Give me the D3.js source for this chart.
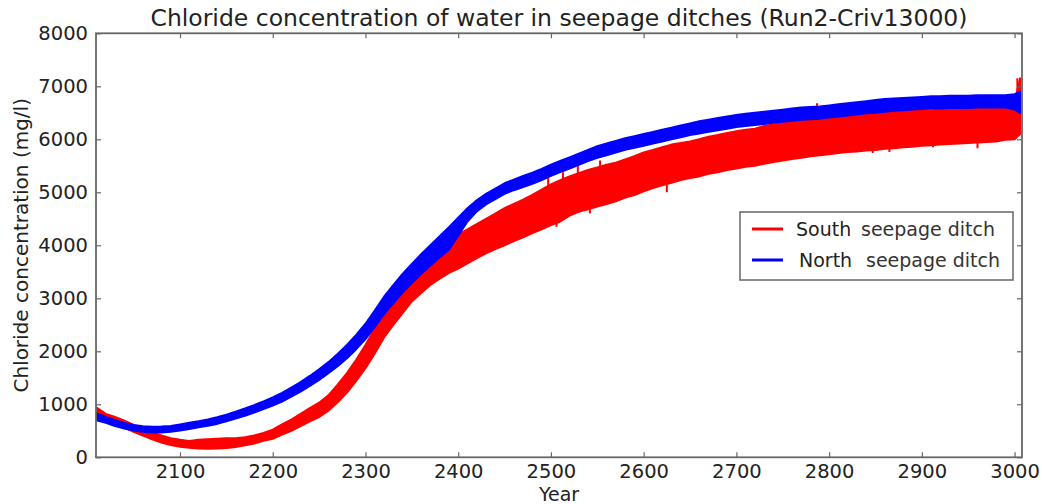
<!DOCTYPE html>
<html><head><meta charset="utf-8">
<script src="https://cdn.jsdelivr.net/npm/d3@7/dist/d3.min.js"></script>
<style>body{margin:0;background:#fff} text{font-family:"DejaVu Sans",sans-serif}</style>
</head><body><svg id="c" width="1042" height="504"></svg>
<script>
const years = [2010,2020,2030,2040,2050,2060,2070,2080,2090,2100,2110,2120,2130,2140,2150,2160,2170,2180,2190,2200,
2210,2220,2230,2240,2250,2260,2270,2280,2290,2300,2310,2320,2330,2340,2350,2360,2370,2380,2390,2400,
2410,2420,2430,2440,2450,2460,2470,2480,2490,2500,2510,2520,2530,2540,2550,2560,2570,2580,2590,2600,
2610,2620,2630,2640,2650,2660,2670,2680,2690,2700,2710,2720,2730,2740,2750,2760,2770,2780,2790,2800,
2810,2820,2830,2840,2850,2860,2870,2880,2890,2900,2910,2920,2930,2940,2950,2960,2970,2980,2990,3000,3006];

const northLo = [700,650,590,545,505,480,470,470,480,505,535,565,595,630,680,730,785,845,910,975,
1050,1145,1240,1345,1460,1585,1720,1870,2040,2230,2460,2700,2910,3110,3290,3460,3620,3770,3920,4180,
4450,4640,4770,4870,4970,5040,5100,5160,5230,5310,5380,5450,5520,5590,5650,5700,5750,5800,5840,5880,
5920,5960,6000,6040,6080,6110,6140,6170,6200,6230,6250,6270,6290,6310,6330,6350,6370,6380,6390,6410,
6430,6450,6470,6490,6500,6520,6540,6550,6560,6570,6580,6580,6590,6590,6590,6600,6600,6600,6600,6560,6500];
const northHi = [830,760,700,650,610,585,575,580,590,620,650,680,715,755,805,860,920,985,1055,1130,
1215,1315,1420,1535,1660,1795,1950,2120,2310,2520,2770,3030,3250,3460,3650,3830,4000,4170,4340,4520,
4700,4850,4970,5070,5170,5240,5310,5370,5440,5520,5590,5660,5730,5800,5870,5920,5970,6020,6060,6100,
6140,6180,6220,6260,6300,6340,6370,6400,6430,6460,6480,6500,6520,6540,6560,6580,6600,6610,6620,6640,
6660,6680,6700,6720,6740,6760,6770,6780,6790,6800,6810,6810,6820,6820,6820,6830,6830,6830,6830,6850,6900];

const southLo = [780,690,630,560,480,410,340,280,230,200,180,165,160,165,175,195,225,260,310,350,
430,500,590,680,760,880,1040,1220,1440,1680,1960,2260,2500,2720,2940,3100,3250,3370,3480,3560,
3660,3760,3850,3930,4000,4080,4150,4230,4300,4380,4450,4560,4630,4680,4730,4780,4830,4900,4950,5020,
5080,5130,5180,5230,5270,5300,5350,5380,5420,5450,5480,5500,5540,5570,5600,5630,5650,5680,5700,5720,
5740,5760,5770,5790,5800,5820,5830,5850,5860,5880,5890,5900,5910,5920,5930,5940,5950,5960,5990,6000,6100];
const southHi = [940,820,760,690,610,540,470,410,360,330,310,330,340,350,360,360,380,410,460,520,
620,710,820,930,1030,1170,1370,1590,1840,2120,2430,2740,3000,3240,3460,3660,3810,3950,4080,4200,
4300,4400,4500,4600,4700,4780,4860,4950,5050,5150,5230,5300,5360,5420,5470,5520,5560,5620,5680,5750,
5800,5850,5900,5930,5960,6000,6050,6080,6120,6150,6180,6200,6250,6280,6310,6340,6380,6420,6440,6450,
6470,6480,6490,6500,6500,6510,6520,6530,6540,6550,6550,6560,6570,6570,6580,6580,6590,6600,6650,6700,7150];

// isolated spikes of the South series: year, from, to (mg/l)
const southSpikeYears = [2140,2150,2158,2497,2506,2513,2529,2542,2553,2607,2625,2646,2750,2758,2787,2847,2865,2912,2960,3003];
const southSpikeFrom  = [250,250,260,4900,4350,5000,5200,4600,5300,5080,5000,5290,6000,5610,6300,5740,5760,5850,5830,6300];
const southSpikeTo    = [360,370,365,5300,4800,5380,5560,5000,5600,5500,5400,5600,6300,5900,6680,6000,6000,6100,6100,7150];

const xTicks = [2100,2200,2300,2400,2500,2600,2700,2800,2900,3000];
const yTicks = [0,1000,2000,3000,4000,5000,6000,7000,8000];
const seriesNames = ["South", "North"];
const legendSuffix = "seepage ditch";
const titleText = "Chloride concentration of water in seepage ditches (Run2-Criv13000)";
const xLabel = "Year";
const yLabel = "Chloride concentration (mg/l)";

const L = 96, R = 1022, T = 33.3, B = 457.3;
const svg = d3.select("#c");
const x = d3.scaleLinear().domain([2009.4, 3008]).range([L, R]);
const y = d3.scaleLinear().domain([0, 8000]).range([B, T]);

svg.append("defs").append("clipPath").attr("id","clip")
  .append("rect").attr("x",L).attr("y",T).attr("width",R-L).attr("height",B-T);

const series = [
  {name: seriesNames[0], color: "#ff0000", lo: southLo, hi: southHi,
   spikes: southSpikeYears.map((yr, i) => ({year: yr, from: southSpikeFrom[i], to: southSpikeTo[i]}))},
  {name: seriesNames[1], color: "#0000ff", lo: northLo, hi: northHi, spikes: []}
];
const area = d3.area().x(d => x(d.year)).y0(d => y(d.lo)).y1(d => y(d.hi)).curve(d3.curveLinear);
const g = svg.append("g").attr("clip-path","url(#clip)");
series.forEach(s => {
  const pts = years.map((yr, i) => ({year: yr, lo: s.lo[i], hi: s.hi[i]}));
  g.append("path").datum(pts).attr("d", area)
    .attr("fill", s.color).attr("stroke", s.color).attr("stroke-width", 2).attr("stroke-linejoin","round");
  g.selectAll(null).data(s.spikes).join("line")
    .attr("x1", d => x(d.year)).attr("x2", d => x(d.year))
    .attr("y1", d => y(d.from)).attr("y2", d => y(d.to))
    .attr("stroke", s.color).attr("stroke-width", 2);
});

// axes
const axCol = "#666";
function styleAxis(sel){
  sel.select(".domain").remove();
  sel.selectAll(".tick line").attr("stroke", axCol).attr("stroke-width", 1.2);
  sel.selectAll(".tick text").attr("fill", "#222").style("font-size","19.5px").style("font-family","DejaVu Sans");
}
svg.append("g").attr("transform",`translate(0,${B})`)
  .call(d3.axisBottom(x).tickValues(xTicks).tickFormat(d3.format("d")).tickSizeInner(-5).tickSizeOuter(0).tickPadding(7)).call(styleAxis);
svg.append("g").attr("transform",`translate(0,${T})`)
  .call(d3.axisTop(x).tickValues(xTicks).tickFormat("").tickSizeInner(-5).tickSizeOuter(0)).call(styleAxis);
svg.append("g").attr("transform",`translate(${L},0)`)
  .call(d3.axisLeft(y).tickValues(yTicks).tickFormat(d3.format("d")).tickSizeInner(-5).tickSizeOuter(0).tickPadding(8)).call(styleAxis);
svg.append("g").attr("transform",`translate(${R},0)`)
  .call(d3.axisRight(y).tickValues(yTicks).tickFormat("").tickSizeInner(-5).tickSizeOuter(0)).call(styleAxis);

svg.append("rect").attr("x",L).attr("y",T).attr("width",R-L).attr("height",B-T)
  .attr("fill","none").attr("stroke",axCol).attr("stroke-width",1.8);

// title and labels
svg.append("text").attr("x",(L+R)/2).attr("y",26).attr("text-anchor","middle")
  .style("font-size","23.5px").attr("fill","#222").text(titleText);
svg.append("text").attr("x",(L+R)/2).attr("y",501).attr("text-anchor","middle")
  .style("font-size","19px").attr("fill","#222").text(xLabel);
svg.append("text").attr("transform",`translate(28,${(T+B)/2}) rotate(-90)`).attr("text-anchor","middle")
  .style("font-size","20px").attr("fill","#222").text(yLabel);

// legend
const lg = svg.append("g");
lg.append("rect").attr("x",740).attr("y",212).attr("width",273).attr("height",68)
  .attr("fill","#fff").attr("stroke","#666").attr("stroke-width",1.5);
const legendRows = [
  {y: 229, nameX: 796, sufX: 861},
  {y: 260, nameX: 799, sufX: 866}
];
series.forEach((s, i) => {
  const r = legendRows[i];
  lg.append("line").attr("x1",752).attr("x2",783).attr("y1",r.y).attr("y2",r.y)
    .attr("stroke",s.color).attr("stroke-width",3);
  lg.append("text").attr("x",r.nameX).attr("y",r.y+7).style("font-size","19px").attr("fill","#222").text(s.name);
  lg.append("text").attr("x",r.sufX).attr("y",r.y+7).style("font-size","19px").attr("fill","#333").text(legendSuffix);
});
</script></body></html>
